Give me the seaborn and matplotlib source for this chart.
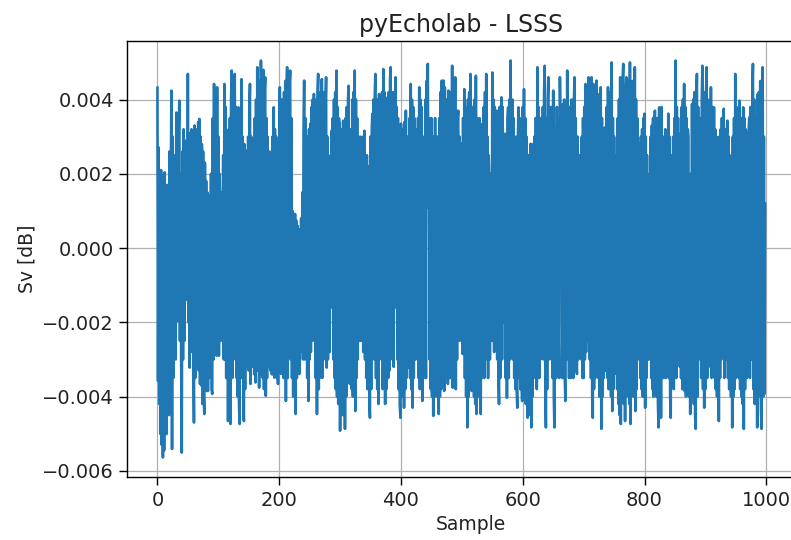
import numpy as np
import pandas as pd
import matplotlib
matplotlib.use("Agg")
import matplotlib.pyplot as plt
import seaborn as sns

# Sv values, in units of 1e-5 dB (sample 0 .. 998)
sv_1e5 = [
    433, -358, 271, -420, 205, -501, 210, -530, 195, -564,
    180, -545, 204, -470, 150, -501, 170, -380, 120, -450,
    260, -400, 180, 424, -541, 300, -350, 200, -277, 250,
    -300, 365, -150, 280, -196, 320, 397, -250, 200, -310,
    -551, 260, -300, 320, -250, 290, -110, -75, 250, -140,
    469, -200, 300, -322, 310, -250, 320, -280, 316, -300,
    -470, 330, -350, 320, -280, 300, -299, 340, -330, 348,
    -366, 300, -370, 280, -420, 260, -400, -447, 230, -380,
    181, -385, 150, -385, 140, -350, 141, -300, 200, -380,
    -393, 350, -300, 442, -250, -187, 380, -290, 433, -280,
    300, -290, 200, 127, -250, 150, -200, -52, 250, -300,
    442, -300, 380, -350, 300, 262, -466, 320, -400, 350,
    -474, 400, 478, -350, 420, -300, 400, 469, -258, 380,
    -350, 330, -400, 379, -420, -474, 350, -300, 455, -350,
    300, -400, -466, 280, -380, 250, -320, 262, -295, 300,
    -330, 380, 442, -366, 300, -320, 280, -300, 289, -340,
    350, -362, 400, -300, 487, -330, 420, -376, 450, -340,
    505, -300, 450, -350, 480, -380, 420, 460, -398, 350,
    -350, 300, -320, -304, 260, 227, -330, 250, -340, 300,
    -340, 379, -349, 320, -330, 300, -350, 280, -366, 235,
    -300, 433, -320, -339, 400, -300, 380, -350, 420, -330,
    450, -412, 400, 487, -350, 420, -250, 440, 478, -300,
    350, -350, 100, -400, 80, -380, 92, -447, 74, -350,
    60, -300, 2, -339, 50, -280, 80, -250, 150, -300,
    300, 451, -300, 350, -280, 154, -350, 300, -412, 320,
    -300, 335, -280, 380, -250, 400, -142, 415, -250, 380,
    -350, 400, -447, 420, 469, -380, 400, -300, 420, -349,
    455, -349, 400, -300, 420, -280, 380, 460, -322, 300,
    -300, 250, 154, -280, 200, -150, 316, -160, 350, -300,
    400, -350, 420, -380, 478, -400, 380, -420, 350, 335,
    -492, 300, -450, 320, -420, 343, -450, 300, -487, 350,
    -400, 380, -350, 400, 437, -350, -366, 320, 298, -380,
    400, -400, 420, -380, 478, -439, 400, -350, 350, -300,
    300, 281, -250, 300, -250, 280, -169, 300, -280, 250,
    316, -300, 250, -350, 250, -380, 220, 190, -400, -457,
    300, -380, 320, 362, -214, 400, -300, 420, 469, -350,
    400, -380, 380, -420, 415, -300, 400, -110, -96, 420,
    -380, 482, -350, 420, -420, 400, -380, 380, 406, -350,
    420, -330, 450, 487, -285, 400, -300, 420, -320, 380,
    -160, 460, -150, 380, -300, 350, -380, 320, -420, -457,
    335, -400, 320, -380, 300, -430, 340, -380, 370, -350,
    300, 163, -300, -322, 350, -350, 442, -380, 400, -430,
    380, -350, 350, 289, -300, 320, -280, -241, 350, -350,
    433, -380, 400, -350, 380, -412, 262, -350, 300, -300,
    400, -350, 450, 200, 496, 109, 300, -300, 350, -380,
    350, -400, 2, -452, 300, -350, 350, -400, 300, -350,
    300, 244, -447, 350, -400, 420, -380, 451, -376, 400,
    451, -385, 433, -350, 400, -339, 380, -366, 424, -350,
    400, -350, 420, -300, 491, -376, 350, -300, 12, 460,
    -380, 370, -300, 350, 370, -250, 300, -187, 280, -250,
    281, -285, 350, -285, 428, -350, 300, -400, 379, -483,
    400, -400, 420, -350, 469, -380, -385, 380, -350, 136,
    -400, 400, -420, 464, -447, 350, -400, 146, -380, 350,
    -400, -447, 300, -350, 335, -300, 380, -350, 420, -300,
    469, -15, 300, -350, 250, 181, -300, 200, -250, -169,
    473, -250, 400, -280, 380, -277, 350, 370, -300, 350,
    -350, -420, 380, -350, 350, 406, -300, 380, -200, -142,
    300, 308, -350, 300, -403, 350, 379, -350, 400, -300,
    505, -250, -214, 400, -300, 350, -350, 154, -380, 300,
    -380, -430, 300, 379, -350, 350, -380, 320, -350, -412,
    380, -350, 428, -400, 350, -420, 300, 217, -457, 250,
    -400, 250, -450, 281, -483, 250, -400, 280, -350, 300,
    -300, 350, 350, -380, 487, -115, 380, -350, 350, -300,
    350, 325, -241, 380, -300, 420, 491, -350, -483, 350,
    -380, 400, 460, -300, 350, -241, 380, -300, 350, -350,
    424, -400, -483, 300, 325, -350, 380, -300, 350, -250,
    -350, 460, 300, -88, 350, -350, 388, -300, 400, -350,
    -412, 380, -300, 478, -61, 350, -350, 380, 362, -350,
    400, -304, 380, -350, 400, 460, -300, 350, -320, -339,
    300, -300, 250, 200, -177, 250, -300, 300, -350, 350,
    -350, 380, -300, 442, -280, 400, -250, 420, 460, -187,
    -300, 400, -350, 460, -400, -457, 442, -380, 400, -350,
    400, 451, -258, 415, -350, 380, -400, 350, 433, -487,
    350, -400, 300, -350, 280, 325, -300, -331, 380, -350,
    433, -380, 400, -350, 420, -400, 500, -439, 350, -380,
    300, -339, 250, -300, 163, -380, 350, -420, 400, -450,
    460, -474, 420, -400, 450, 496, -420, 400, -466, 420,
    460, -400, 420, -380, 450, -420, 500, -474, 400, -400,
    450, -380, 420, -400, 487, -439, 400, -380, 350, -300,
    280, 2, 281, -350, 300, -380, 320, -400, 350, -380,
    362, -430, 300, -350, 250, -300, 92, -300, 200, -241,
    300, -350, 330, -380, 350, -400, 300, 370, -350, 320,
    -400, 350, -420, -483, 379, -400, 350, -457, 380, -300,
    146, -350, 300, -300, 320, -350, -268, 300, -300, 362,
    -350, 300, -400, -457, 250, 173, -350, 300, -380, 350,
    -300, 505, -350, 380, -300, 350, -277, 300, -320, 308,
    -350, 380, -380, 400, -350, 442, -385, 380, -400, 350,
    -380, 320, 298, -400, 190, -447, 200, -400, 388, -350,
    400, -420, 420, -450, -487, 400, 469, -400, 380, -300,
    -250, 350, 244, -350, 400, 491, -380, 420, -430, 400,
    -380, 420, 487, -350, 400, -300, -277, 380, -320, 433,
    -350, 380, -320, -304, 379, -350, 320, -380, 300, -400,
    280, 298, -466, 300, -350, 320, -300, 350, -115, 300,
    375, -350, 320, -300, -295, 300, 343, -350, 300, -380,
    250, 217, -400, -52, -483, 300, -400, 350, -380, 469,
    -350, 380, -320, -295, 350, -350, 397, -380, 350, -400,
    350, -420, 379, -487, 350, -380, 320, 308, -350, 300,
    -295, 320, 352, -350, 380, -300, -285, 420, 496, -380,
    400, -420, 350, -400, 163, -483, 415, -400, 420, -380,
    450, -420, -487, 400, 487, -400, 300, -393, 120,
]

title = "pyEcholab - LSSS"
xlabel = "Sample"
ylabel = "Sv [dB]"

sv = np.array(sv_1e5, dtype=float) / 1e5  # convert units to dB
df = pd.DataFrame({"Sample": np.arange(len(sv)), "Sv": sv})

sns.set_theme(style="ticks")
plt.rcParams["font.family"] = ["DejaVu Sans"]

fig = plt.figure(figsize=(7.91, 5.40), dpi=100)
# the original screenshot is cut on the right, so the axes run past the edge
ax = fig.add_axes([0.1606, 0.1161, 0.8698, 0.8085])

sns.lineplot(data=df, x="Sample", y="Sv", ax=ax, color="#1f77b4",
             linewidth=1.9, estimator=None)

ax.set_xlim(-49.9, 1080)
ax.set_xticks([0, 200, 400, 600, 800, 1000])
ax.set_yticks([-0.006, -0.004, -0.002, 0.0, 0.002, 0.004])
ax.yaxis.set_major_formatter(matplotlib.ticker.FuncFormatter(
    lambda v, p: f"{v:.3f}".replace("-", "\u2212")))
ax.grid(True, color="#b0b0b0", linewidth=0.9)
for sp in ax.spines.values():
    sp.set_color("black")
    sp.set_linewidth(1.0)
ax.tick_params(axis="both", labelsize=14, length=5.5, width=1.0,
               color="black", labelcolor="#222222", direction="out", pad=4)
ax.set_xlabel(xlabel, fontsize=13.5, color="#222222")
ax.set_ylabel(ylabel, fontsize=13.5, color="#222222")
ax.set_title(title, fontsize=17, color="#222222", x=0.486)

fig.savefig("out.png", dpi=100)
